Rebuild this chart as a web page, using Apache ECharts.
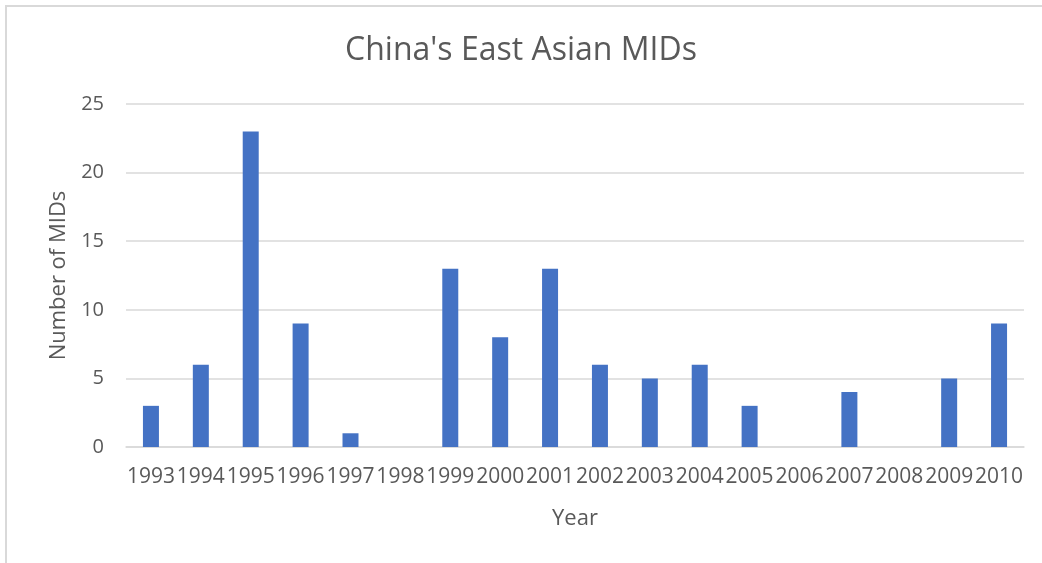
<!DOCTYPE html>
<html>
<head>
<meta charset="utf-8">
<script src="https://cdn.jsdelivr.net/npm/echarts@6/dist/echarts.min.js"></script>
<style>
  html, body { margin: 0; padding: 0; background: #fff; }
  #frame { position: absolute; left: 5px; top: 5px; width: 1100px; height: 620px;
           border-left: 2px solid #d9d9d9; border-top: 2px solid #d9d9d9; }
  #chart { position: absolute; left: 0; top: 0; width: 1042px; height: 563px; }
</style>
</head>
<body>
<div id="frame"></div>
<div id="chart"></div>
<script>
const years = ['1993', '1994', '1995', '1996', '1997', '1998', '1999', '2000', '2001',
  '2002', '2003', '2004', '2005', '2006', '2007', '2008', '2009', '2010'];
const mids = [3, 6, 23, 9, 1, 0, 13, 8, 13, 6, 5, 6, 3, 0, 4, 0, 5, 9];
const yTicks = [0, 5, 10, 15, 20, 25];

const chart = echarts.init(document.getElementById('chart'));
const font = '"Open Sans", "Noto Sans", sans-serif';

chart.setOption({
  animation: false,
  textStyle: { fontFamily: font },
  title: {
    text: "China's East Asian MIDs",
    left: 'center',
    top: 30,
    textStyle: { fontFamily: font, fontSize: 32, fontWeight: 'normal', color: '#595959' }
  },
  grid: { left: 126, right: 18, top: 104, bottom: 116 },
  xAxis: {
    type: 'category',
    data: years,
    name: 'Year',
    nameLocation: 'middle',
    nameGap: 61,
    nameTextStyle: { fontSize: 22, color: '#595959' },
    axisTick: { show: false },
    axisLine: { lineStyle: { color: '#d9d9d9', width: 1.5 } },
    axisLabel: { color: '#595959', fontSize: 21, margin: 20, interval: 0 }
  },
  yAxis: {
    type: 'value',
    min: yTicks[0],
    max: yTicks[yTicks.length - 1],
    interval: 5,
    name: 'Number of MIDs',
    nameLocation: 'middle',
    nameGap: 56,
    nameTextStyle: { fontSize: 22, color: '#595959' },
    axisLine: { show: false },
    axisTick: { show: false },
    axisLabel: { color: '#595959', fontSize: 20, margin: 22 },
    splitLine: { lineStyle: { color: '#d9d9d9', width: 1.5 } }
  },
  series: [{
    type: 'bar',
    data: mids,
    barWidth: 16,
    itemStyle: { color: '#4472c4' }
  }]
});
</script>
</body>
</html>
